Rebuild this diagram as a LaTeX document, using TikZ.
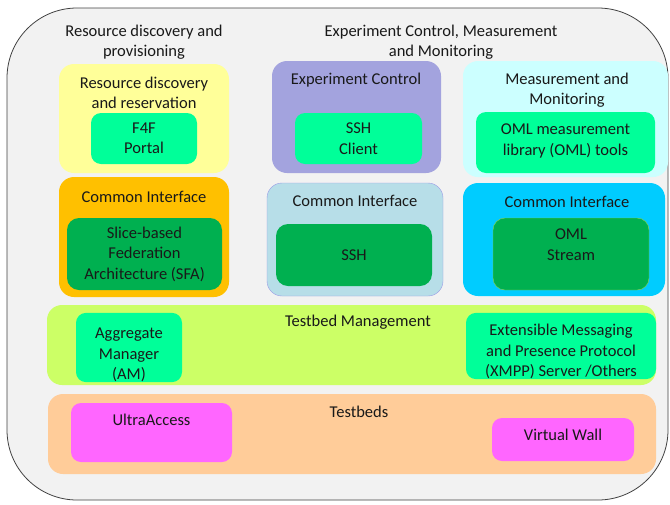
\documentclass[tikz,border=0pt]{standalone}
\usepackage{fontspec}
\setmainfont{Carlito}
\usepackage{tikz}
\usetikzlibrary{positioning}

\definecolor{FrameGray}{HTML}{F2F2F2}
\definecolor{FrameLine}{HTML}{404040}
\definecolor{PaleYellow}{HTML}{FFFF99}
\definecolor{Spring}{HTML}{00FF99}
\definecolor{Lavender2}{HTML}{A3A3DE}
\definecolor{PaleCyan}{HTML}{CCFFFF}
\definecolor{Amber}{HTML}{FFC000}
\definecolor{LeafGreen}{HTML}{00B050}
\definecolor{PaleTeal}{HTML}{B7DEE8}
\definecolor{TealLine}{HTML}{9A9AE6}
\definecolor{SkyCyan}{HTML}{00CCFF}
\definecolor{LimeLine}{HTML}{92D050}
\definecolor{Lime}{HTML}{CCFF66}
\definecolor{Peach}{HTML}{FFCC99}
\definecolor{Pink}{HTML}{FF66FF}

\begin{document}
\begin{tikzpicture}[
  x=1pt,y=-1pt,
  every node/.style={font=\fontsize{16.5}{20.5}\selectfont,align=center,
    inner sep=0pt,text=black!90},
  dims/.style 2 args={minimum width=#1pt,minimum height=#2pt},
  frame/.style={rounded corners=70pt,draw=FrameLine,fill=FrameGray,thick},
  panel/.style={rounded corners=15pt},
  inbox/.style={rounded corners=10pt,fill=Spring},
  deepbox/.style={rounded corners=12pt,fill=LeafGreen},
  testbed/.style={rounded corners=10pt,fill=Pink}
  ]

  \useasboundingbox (0,0) rectangle (670,504);

  \node[frame,dims={661}{492}] (fed) at (337.5,254) {};

  \node (rdptitle) at (144,42)   {Resource discovery and\\provisioning};
  \node (ecmtitle) at (441,42)   {Experiment Control, Measurement\\and Monitoring};

  \node[panel,fill=PaleYellow,dims={170}{109}] (resv) at (144,118.5) {};
  \node[panel,fill=Lavender2,dims={169}{112}]  (expc) at (356.5,117) {};
  \node[panel,fill=PaleCyan,dims={205}{116}]   (meas) at (565.5,119) {};

  \node (resvtitle) at (144,93)  {Resource discovery\\and reservation};
  \node (expctitle) at (356,80)  {Experiment Control};
  \node (meastitle) at (567,90)  {Measurement and\\Monitoring};

  \node[inbox,dims={106}{51}] (portal) at (144,138.5)   {F4F\\Portal};
  \node[inbox,dims={127}{51}] (client) at (358.5,138.5) {SSH\\Client};
  \node[inbox,dims={179}{61},text depth=6pt] (omlib) at (565.5,142.5) {OML measurement\\library (OML) tools};

  \node[panel,fill=Amber,dims={170}{120}]                   (ci1) at (144,237)   {};
  \node[panel,fill=PaleTeal,draw=TealLine,dims={176}{113}]  (ci2) at (355,239.5) {};
  \node[panel,fill=SkyCyan,dims={202}{113}]                 (ci3) at (564,239.5) {};

  \node (ci1title) at (144,197)  {Common Interface};
  \node (ci2title) at (355,201)  {Common Interface};
  \node (ci3title) at (567,202)  {Common Interface};

  \node[deepbox,dims={155}{72}]               (sfa)    at (144.5,254) {Slice-based\\Federation\\Architecture (SFA)};
  \node[deepbox,dims={156}{62}]               (sshsrv) at (354,255)   {SSH};
  \node[deepbox,draw=LimeLine,dims={156}{72},
    text depth=19pt]                          (stream) at (571,254)   {OML\\Stream};

  \node[panel,fill=Lime,dims={609}{80}]  (tbm) at (351.5,345) {};
  \node[panel,fill=Peach,dims={608}{80}] (tbs) at (352,434)   {};

  \node (tbmtitle) at (358,322)  {Testbed Management};
  \node (tbstitle) at (359,412)  {Testbeds};

  \node[inbox,dims={106}{65},text height=67pt] (am)   at (129,347.5) {Aggregate\\Manager\\(AM)};
  \node[inbox,dims={190}{66},text height=64pt] (xmpp) at (561,346)   {Extensible Messaging\\and Presence Protocol\\(XMPP) Server /Others};

  \node[testbed,dims={161}{59},text depth=25pt] (ultra) at (151.5,432.5) {UltraAccess};
  \node[testbed,dims={142}{43},text depth=9pt]  (vwall) at (563,439.5)   {Virtual Wall};
\end{tikzpicture}
\end{document}
